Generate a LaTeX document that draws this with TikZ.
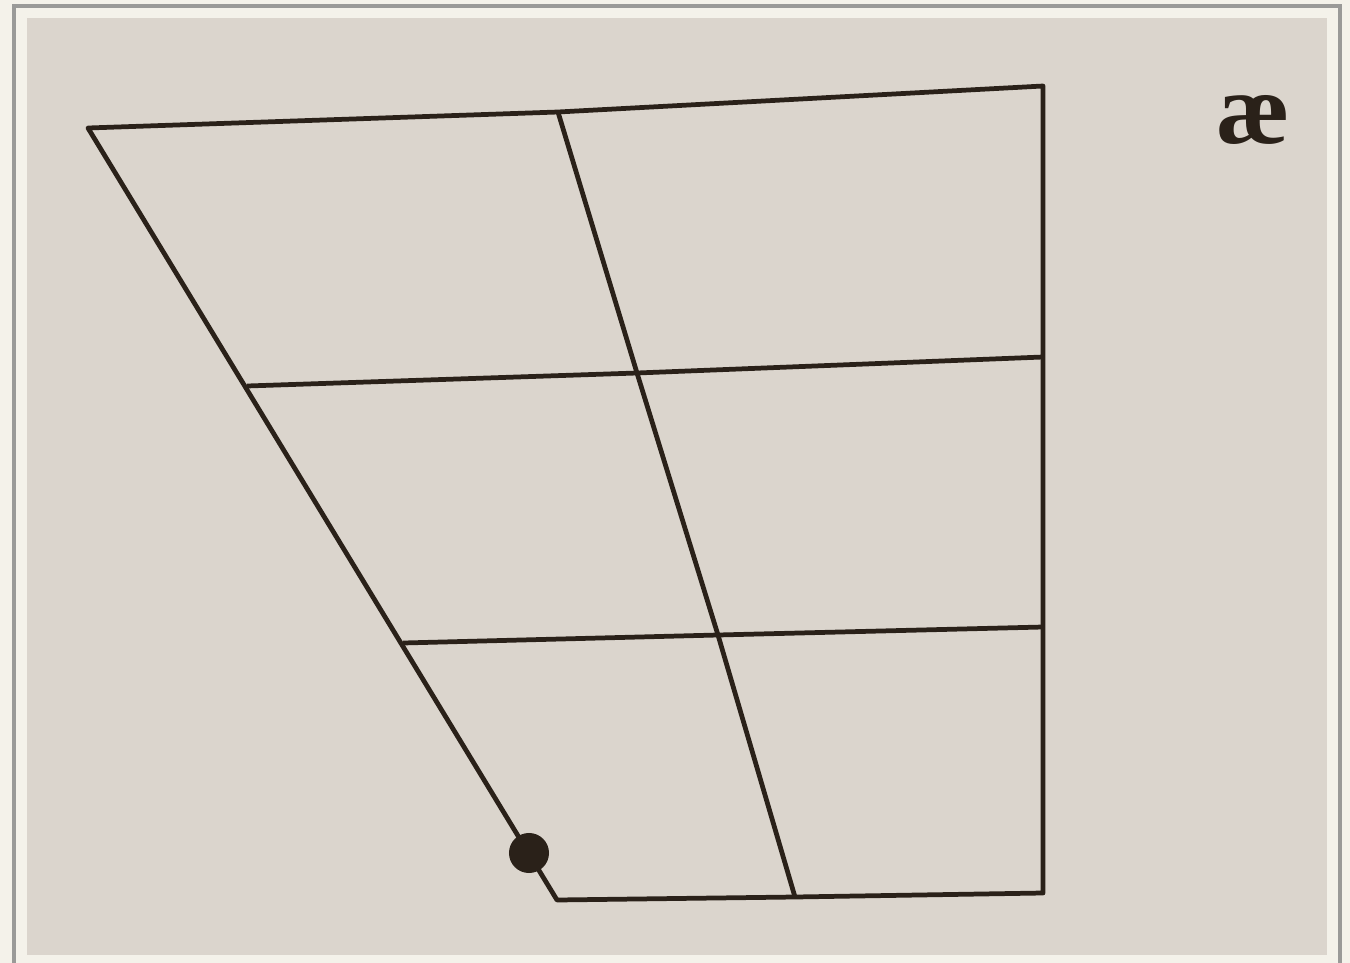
\documentclass[tikz,border=0pt]{standalone}
\usepackage{fontspec}
\setmainfont{Liberation Serif}
\usepackage{xcolor}
\definecolor{pagebg}{HTML}{F4F2EA}
\definecolor{framegray}{HTML}{9A9A98}
\definecolor{paper}{HTML}{DBD5CD}
\definecolor{ink}{HTML}{2A2119}
\tikzset{
  chartline/.style={draw=ink, line width=1.35pt, line join=round},
  voweldot/.style={circle, fill=ink, inner sep=0pt, minimum size=0.4cm},
  symbol/.style={text=ink, font=\fontsize{29}{29}\selectfont\bfseries, inner sep=0pt}
}

\begin{document}
\begin{tikzpicture}[x=0.01cm, y=-0.01cm]
  % photo frame
  \fill[pagebg] (0,0) rectangle (1350,963);
  \useasboundingbox (0,0) rectangle (1350,963);
  \draw[framegray, line width=0.9pt] (14,990) -- (14,6) -- (1340,6) -- (1340,990);
  \fill[paper] (27,18) rectangle (1327,955);

  % corners and grid points
  \coordinate (tl) at (88,128);
  \coordinate (tm) at (558,112);
  \coordinate (tr) at (1043,86);
  \coordinate (ul) at (247,386);
  \coordinate (um) at (637,373);
  \coordinate (ur) at (1043,357);
  \coordinate (ll) at (403,643);
  \coordinate (lm) at (718,635);
  \coordinate (lr) at (1043,627);
  \coordinate (bl) at (557,900);
  \coordinate (bm) at (795,897);
  \coordinate (br) at (1043,893);

  % outline
  \draw[chartline] (tl) -- (tm) -- (tr) -- (br) -- (bm) -- (bl) -- cycle;
  % grid
  \draw[chartline] (ul) -- (um) -- (ur);
  \draw[chartline] (ll) -- (lm) -- (lr);
  \draw[chartline] (tm) -- (um) -- (lm) -- (bm);

  \node[voweldot] (ae) at (529,853) {};
  \node[symbol] (label) at (1253,120) {æ};
\end{tikzpicture}
\end{document}
